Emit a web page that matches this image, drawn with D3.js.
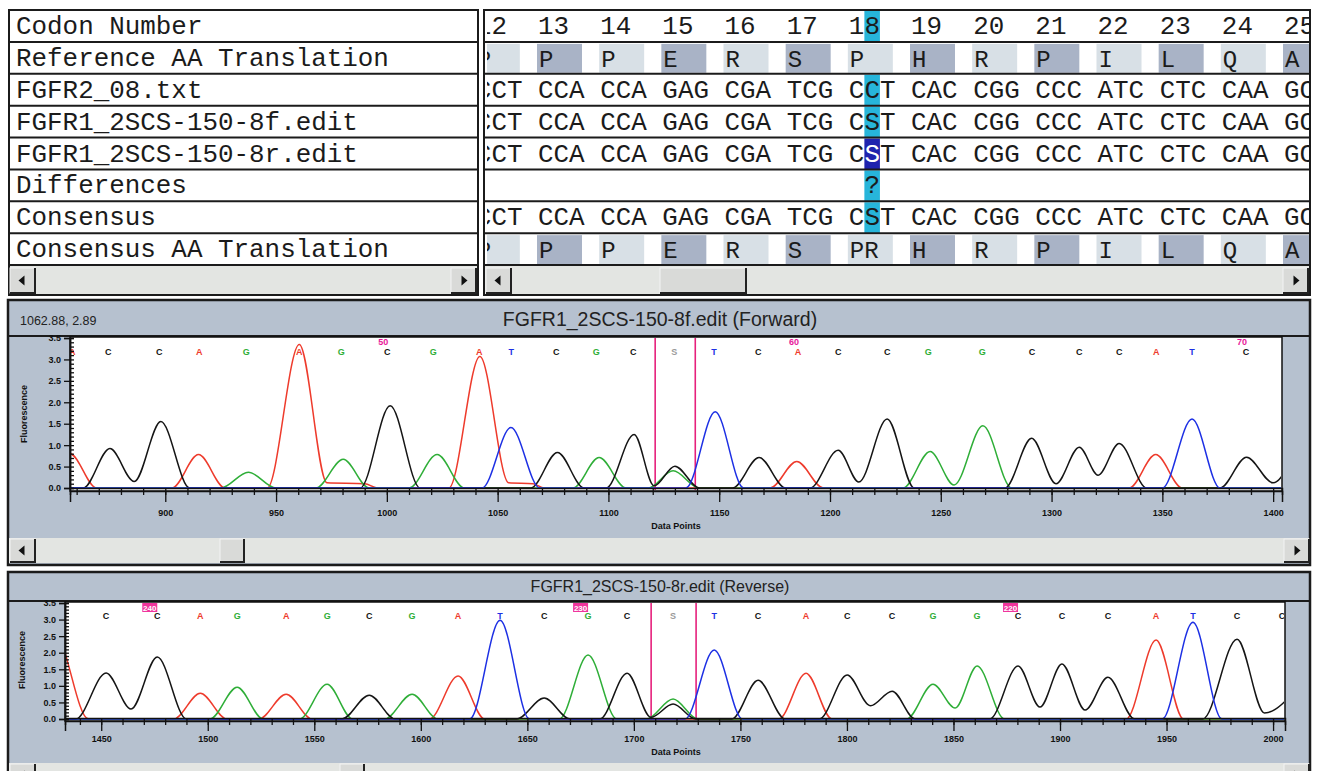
<!DOCTYPE html>
<html>
<head>
<meta charset="utf-8">
<script src="https://cdn.jsdelivr.net/npm/d3@7"></script>
<style>
  body { margin: 0; background: #fff; }
  svg { display: block; }
</style>
</head>
<body>
<svg id="chart" width="1319" height="771"></svg>
<script>
// ---- alignment table ----
const rowLabels = [
  'Codon Number',
  'Reference AA Translation',
  'FGFR2_08.txt',
  'FGFR1_2SCS-150-8f.edit',
  'FGFR1_2SCS-150-8r.edit',
  'Differences',
  'Consensus',
  'Consensus AA Translation',
]
const codonNumbers = [12, 13, 14, 15, 16, 17, 18, 19, 20, 21, 22, 23, 24, 25]
const refAA = ['P', 'P', 'P', 'E', 'R', 'S', 'P', 'H', 'R', 'P', 'I', 'L', 'Q', 'A']
const fgfr2Seq = ['CCT', 'CCA', 'CCA', 'GAG', 'CGA', 'TCG', 'CCT', 'CAC', 'CGG', 'CCC', 'ATC', 'CTC', 'CAA', 'GCC']
const fwdSeq = ['CCT', 'CCA', 'CCA', 'GAG', 'CGA', 'TCG', 'CST', 'CAC', 'CGG', 'CCC', 'ATC', 'CTC', 'CAA', 'GCC']
const revSeq = ['CCT', 'CCA', 'CCA', 'GAG', 'CGA', 'TCG', 'CST', 'CAC', 'CGG', 'CCC', 'ATC', 'CTC', 'CAA', 'GCC']
const diffSeq = ['', '', '', '', '', '', ' ?', '', '', '', '', '', '', '']
const consensusSeq = ['CCT', 'CCA', 'CCA', 'GAG', 'CGA', 'TCG', 'CST', 'CAC', 'CGG', 'CCC', 'ATC', 'CTC', 'CAA', 'GCC']
const consensusAA = ['P', 'P', 'P', 'E', 'R', 'S', 'PR', 'H', 'R', 'P', 'I', 'L', 'Q', 'A']
const markCodon = 18
const markChar = 1

// ---- forward trace (data points, fluorescence) ----
const fwdA = [[840, 0], [857, 0.8], [869, 0], [903, 0], [915, 0.78], [927, 0], [946, 0], [960.5, 3.35], [973, 0.12], [990, 0.1], [996, 0],
  [1028, 0], [1042, 3.07], [1055, 0.12], [1066, 0.1], [1071, 0], [1173, 0], [1185, 0.62], [1197, 0], [1335, 0], [1347, 0.78], [1359, 0], [1410, 0]]
const fwdC = [[840, 0], [863, 0], [875, 0.92], [886, 0.15], [898, 1.55], [911, 0], [988, 0], [1001.5, 1.92], [1015, 0], [1065, 0], [1077, 0.83], [1089, 0],
  [1099, 0], [1111.6, 1.25], [1120.6, 0.05], [1130, 0.51], [1141, 0], [1156, 0], [1168, 0.71], [1180, 0], [1191, 0], [1203.7, 0.88], [1213, 0.14],
  [1225.8, 1.61], [1238, 0], [1279, 0], [1291, 1.16], [1302, 0.1], [1312.5, 0.95], [1321, 0.3], [1330.5, 1.04], [1343, 0], [1376, 0], [1388, 0.72],
  [1400, 0.12], [1410, 0.9]]
const fwdG = [[840, 0], [925, 0], [937.5, 0.37], [950, 0], [968, 0], [980.3, 0.67], [992, 0], [1010, 0], [1022.7, 0.78], [1035, 0], [1084, 0],
  [1095.8, 0.71], [1108, 0], [1118, 0], [1129.2, 0.4], [1141, 0], [1233, 0], [1245.2, 0.85], [1256, 0.07], [1269, 1.45], [1282, 0], [1410, 0]]
const fwdT = [[840, 0], [1043, 0], [1056, 1.41], [1069, 0], [1135, 0], [1148.2, 1.78], [1161, 0], [1350, 0], [1363.4, 1.61], [1376, 0], [1410, 0]]
const fwdCalls = 'ACCAGAGCGATCGCSTCACCGGCCCATC'
const fwdCallPos = [858, 874.3, 897.3, 915.3, 936.6, 960.5, 979.4, 1000.2, 1020.9, 1041.7, 1056.1, 1076.4, 1094.5, 1111.2, 1129.7,
  1147.7, 1167.6, 1185.6, 1203.7, 1225.8, 1244.3, 1268.7, 1291.2, 1312.5, 1330.5, 1347.2, 1363.4, 1387.8]
const fwdMarkers = [[1000.2, '50'], [1185.6, '60'], [1387.8, '70']]
const fwdCursor = [1121.1, 1139.2]
const fwdXTicks = [900, 950, 1000, 1050, 1100, 1150, 1200, 1250, 1300, 1350, 1400]

// ---- reverse trace ----
const revA = [[1420, 0], [1428, 2.6], [1444, 0], [1484, 0], [1496.5, 0.78], [1509, 0], [1524, 0], [1536.8, 0.75], [1549, 0], [1604, 0],
  [1617.5, 1.3], [1630, 0], [1768, 0], [1780.8, 1.38], [1793, 0], [1931, 0], [1945.1, 2.38], [1958, 0], [2012, 0]]
const revC = [[1420, 0], [1438, 0], [1452.3, 1.39], [1464, 0.3], [1476.3, 1.87], [1490, 0], [1563, 0], [1575.8, 0.72], [1588, 0], [1645, 0],
  [1657.9, 0.63], [1670, 0], [1684, 0], [1696.8, 1.38], [1708, 0.05], [1718.4, 0.45], [1729, 0], [1746, 0], [1758.3, 1.17], [1771, 0],
  [1787, 0], [1800.1, 1.33], [1811, 0.4], [1821.2, 0.84], [1832, 0], [1867, 0], [1880.3, 1.6], [1890.6, 0.36], [1900.9, 1.66], [1911.8, 0.27],
  [1922.5, 1.26], [1935, 0], [1967, 0], [1983.1, 2.41], [1996, 0.18], [2012, 1.0]]
const revG = [[1420, 0], [1501, 0], [1513.8, 0.96], [1526, 0], [1543, 0], [1556, 1.05], [1568, 0], [1583, 0], [1595.9, 0.75], [1608, 0],
  [1665, 0], [1678.5, 1.93], [1692, 0], [1706, 0], [1718.4, 0.6], [1730, 0], [1828, 0], [1840.4, 1.05], [1850.8, 0.33], [1861.1, 1.6],
  [1874, 0], [2012, 0]]
const revT = [[1420, 0], [1623, 0], [1637.2, 2.98], [1651, 0], [1724, 0], [1737.7, 2.08], [1751, 0], [1948, 0], [1962.4, 2.92], [1976, 0], [2012, 0]]
const revCalls = 'CCAGAGCGATCGCSTCACCGGCCCATCC'
const revCallPos = [1452.3, 1476.3, 1496.5, 1513.8, 1536.8, 1556.1, 1575.8, 1595.9, 1617.5, 1637.2, 1657.9, 1678.5, 1696.8, 1718.4,
  1737.7, 1758.3, 1780.8, 1800.1, 1821.2, 1840.4, 1861.1, 1880.3, 1900.9, 1922.5, 1945.1, 1962.4, 1983.1, 2004.2]
const revMarkers = [[1476.3, '240'], [1678.5, '230'], [1880.3, '220']]
const revCursor = [1708.1, 1729.2]
const revXTicks = [1450, 1500, 1550, 1600, 1650, 1700, 1750, 1800, 1850, 1900, 1950, 2000]

const yTicks = [0, 0.5, 1, 1.5, 2, 2.5, 3, 3.5]

const ink = '#1b1b1b'
const panelFill = '#b6c1cf'
const scrollFill = '#e3e5e2'
const baseColors = { A: '#ee3b2c', C: '#151515', G: '#2fae38', T: '#1d30e4', S: '#9a9a9a' }
const mono = "'Liberation Mono', 'DejaVu Sans Mono', monospace"
const sans = "'Liberation Sans', Arial, sans-serif"

const svg = d3.select('#chart')

function scrollButton(g, x, y, w, h, dir) {
  g.append('rect').attr('x', x).attr('y', y).attr('width', w).attr('height', h)
    .attr('fill', '#d9dad8').attr('stroke', '#f4f4f4').attr('stroke-width', 1)
  g.append('path')
    .attr('d', `M${x + w},${y}V${y + h}H${x}`)
    .attr('fill', 'none').attr('stroke', '#222').attr('stroke-width', 2)
  if (!dir) return
  const cx = x + w / 2, cy = y + h / 2
  const d = dir === 'left'
    ? `M${cx - 4},${cy}L${cx + 2},${cy - 5}L${cx + 2},${cy + 5}Z`
    : `M${cx + 4},${cy}L${cx - 2},${cy - 5}L${cx - 2},${cy + 5}Z`
  g.append('path').attr('d', d).attr('fill', '#111')
}

// ================= table =================
const table = svg.append('g')
const rowY = d3.scaleLinear().domain([0, 8]).range([10, 265])
const rowH = rowY(1) - rowY(0)
const codonX = d3.scaleLinear().domain([13, 25]).range([538, 1284])
const charW = (codonX(14) - codonX(13)) / 4

// left panel
table.append('rect').attr('x', 9).attr('y', 10).attr('width', 469).attr('height', 285)
  .attr('fill', '#fff').attr('stroke', ink).attr('stroke-width', 2)
table.selectAll('.lbl').data(rowLabels).join('text')
  .attr('x', 16).attr('y', (d, i) => rowY(i) + 24)
  .attr('font-family', mono).attr('font-size', '25.9px').attr('fill', ink)
  .text(d => d)

// right panel
table.append('rect').attr('x', 484).attr('y', 10).attr('width', 826).attr('height', 285)
  .attr('fill', '#fff').attr('stroke', ink).attr('stroke-width', 2)

svg.append('clipPath').attr('id', 'tclip').append('rect')
  .attr('x', 487).attr('y', 10).attr('width', 822).attr('height', 255)
const grid = table.append('g').attr('clip-path', 'url(#tclip)')

// shaded AA cells
;[[1, refAA], [7, consensusAA]].forEach(([r, aa]) => {
  grid.selectAll(null).data(codonNumbers).join('rect')
    .attr('x', c => codonX(c) - 1).attr('y', rowY(r) + 2)
    .attr('width', 45).attr('height', rowH - 3)
    .attr('fill', c => (c % 2 ? '#a9b3c6' : '#d8e0e6'))
  grid.selectAll(null).data(aa).join('text')
    .attr('x', (d, i) => codonX(codonNumbers[i]) + 1).attr('y', rowY(r) + 25)
    .attr('font-family', mono).attr('font-size', '24px').attr('fill', ink)
    .text(d => d)
})

// highlighted column
const hx = codonX(markCodon) + charW * markChar
;[0, 2, 3, 5, 6].forEach(r => {
  grid.append('rect').attr('x', hx).attr('y', rowY(r) + 1).attr('width', charW).attr('height', rowH - 1)
    .attr('fill', '#27b5da')
})
// selected base in the reverse read
grid.append('rect').attr('x', hx).attr('y', rowY(4) + 1).attr('width', charW).attr('height', rowH - 1)
  .attr('fill', '#1f23ae')

const seqRows = [[0, codonNumbers.map(String)], [2, fgfr2Seq], [3, fwdSeq], [4, revSeq], [5, diffSeq], [6, consensusSeq]]
seqRows.forEach(([r, seq]) => {
  const t = grid.selectAll(null).data(seq).join('text')
    .attr('x', (d, i) => codonX(codonNumbers[i])).attr('y', rowY(r) + 24)
    .attr('font-family', mono).attr('font-size', '25.9px').attr('fill', ink)
    .attr('xml:space', 'preserve')
  t.selectAll('tspan').data((d, i) => d.split('').map(ch => ({ ch, sel: r === 4 && codonNumbers[i] === markCodon })))
    .join('tspan')
    .attr('fill', (d, j) => (d.sel && j === markChar ? '#fff' : null))
    .text(d => d.ch)
})

// row separators
d3.range(1, 9).forEach(i => {
  table.append('line').attr('x1', 9).attr('x2', 478).attr('y1', rowY(i)).attr('y2', rowY(i))
    .attr('stroke', ink).attr('stroke-width', 2)
  table.append('line').attr('x1', 484).attr('x2', 1310).attr('y1', rowY(i)).attr('y2', rowY(i))
    .attr('stroke', ink).attr('stroke-width', 2)
})

// table scrollbars
table.append('rect').attr('x', 10).attr('y', 266).attr('width', 467).attr('height', 28).attr('fill', scrollFill)
table.append('rect').attr('x', 485).attr('y', 266).attr('width', 824).attr('height', 28).attr('fill', scrollFill)
scrollButton(table, 10, 268, 25, 25, 'left')
scrollButton(table, 451, 268, 25, 25, 'right')
scrollButton(table, 486, 268, 25, 25, 'left')
scrollButton(table, 660, 268, 86, 25, null)
scrollButton(table, 1283, 268, 25, 25, 'right')

// ================= chromatograms =================
function chromatogram(cfg) {
  const g = svg.append('g')
  g.append('rect').attr('x', 8).attr('y', cfg.top).attr('width', 1302).attr('height', cfg.height)
    .attr('fill', panelFill).attr('stroke', ink).attr('stroke-width', 2.5)
  g.append('line').attr('x1', 8).attr('x2', 1310).attr('y1', cfg.titleLine).attr('y2', cfg.titleLine)
    .attr('stroke', ink).attr('stroke-width', 2)
  g.append('text').attr('x', 660).attr('y', cfg.titleY).attr('text-anchor', 'middle')
    .attr('font-family', sans).attr('font-size', cfg.titleSize).attr('fill', '#222')
    .text(cfg.title)
  if (cfg.coords) {
    g.append('text').attr('x', 20).attr('y', cfg.titleY - 1)
      .attr('font-family', sans).attr('font-size', '12.5px').attr('fill', '#222').text(cfg.coords)
  }

  const x = d3.scaleLinear().domain(cfg.xDomain).range([cfg.left, cfg.right])
  const y = d3.scaleLinear().domain([0, 3.5]).range([cfg.base, cfg.plotTop])

  g.append('rect').attr('x', cfg.left).attr('y', cfg.plotTop - 1)
    .attr('width', cfg.right - cfg.left).attr('height', cfg.axisY - cfg.plotTop + 1)
    .attr('fill', '#fff').attr('stroke', '#111').attr('stroke-width', 1.5)

  const clipId = 'clip-' + cfg.id
  svg.append('clipPath').attr('id', clipId).append('rect')
    .attr('x', cfg.left + 1).attr('y', cfg.plotTop - 1)
    .attr('width', cfg.right - cfg.left - 2).attr('height', cfg.axisY - cfg.plotTop)
  const plot = g.append('g').attr('clip-path', `url(#${clipId})`)

  // cursor lines
  plot.selectAll(null).data(cfg.cursor).join('line')
    .attr('x1', d => x(d)).attr('x2', d => x(d)).attr('y1', cfg.plotTop).attr('y2', cfg.axisY)
    .attr('stroke', '#e6207c').attr('stroke-width', 1.6)

  const line = d3.line().x(d => x(d[0])).y(d => y(d[1])).curve(d3.curveMonotoneX)
  ;[['A', cfg.A], ['G', cfg.G], ['C', cfg.C], ['T', cfg.T]].forEach(([b, pts]) => {
    plot.append('path').datum(pts).attr('d', line)
      .attr('fill', 'none').attr('stroke', baseColors[b]).attr('stroke-width', 1.5)
  })

  // base calls
  plot.selectAll(null).data(cfg.callPos).join('text')
    .attr('x', d => x(d)).attr('y', cfg.callY).attr('text-anchor', 'middle')
    .attr('font-family', sans).attr('font-size', '9px').attr('font-weight', 'bold')
    .attr('fill', (d, i) => baseColors[cfg.calls[i]])
    .text((d, i) => cfg.calls[i])

  // position markers
  cfg.markers.forEach(([p, label]) => {
    if (cfg.boxed) {
      plot.append('rect').attr('x', x(p) - 15).attr('y', cfg.plotTop).attr('width', 15).attr('height', 9)
        .attr('fill', '#f0359c')
      plot.append('text').attr('x', x(p) - 7.5).attr('y', cfg.plotTop + 8).attr('text-anchor', 'middle')
        .attr('font-family', sans).attr('font-size', '8px').attr('font-weight', 'bold').attr('fill', '#fff')
        .text(label)
    } else {
      plot.append('text').attr('x', x(p) + 1).attr('y', cfg.plotTop + 7).attr('text-anchor', 'end')
        .attr('font-family', sans).attr('font-size', '9px').attr('font-weight', 'bold').attr('fill', '#e8189a')
        .text(label)
    }
  })

  // axes
  const yAxis = g.append('g').attr('transform', `translate(${cfg.left},0)`)
    .call(d3.axisLeft(y).tickValues(yTicks).tickFormat(d3.format('.1f')).tickSize(6).tickPadding(3))
  const yMinor = g.append('g').attr('transform', `translate(${cfg.left},0)`)
    .call(d3.axisLeft(y).tickValues(d3.range(0, 3.51, 0.1)).tickFormat('').tickSize(-4))
  const xAxis = g.append('g').attr('transform', `translate(0,${cfg.axisY})`)
    .call(d3.axisBottom(x).tickValues(cfg.xTicks).tickFormat(d3.format('d')).tickSize(cfg.majorTick).tickPadding(cfg.tickPad))
  const xMinor = g.append('g').attr('transform', `translate(0,${cfg.axisY - 3})`)
    .call(d3.axisBottom(x).tickValues(d3.range(cfg.xTicks[0] - 50, cfg.xDomain[1], 10).filter(v => v >= cfg.xDomain[0])).tickFormat('').tickSize(7))
  ;[yAxis, yMinor, xAxis, xMinor].forEach(a => {
    a.selectAll('.domain').attr('stroke', '#111').attr('stroke-width', 1.5)
    a.selectAll('.tick line').attr('stroke', '#111').attr('stroke-width', 1.3)
    a.selectAll('text').attr('font-family', sans).attr('font-size', '9px')
      .attr('font-weight', 'bold').attr('fill', '#111')
  })

  g.append('text').attr('transform', `translate(${cfg.yLabelX},${cfg.yLabelY}) rotate(-90)`)
    .attr('text-anchor', 'middle').attr('font-family', sans).attr('font-size', '9px')
    .attr('font-weight', 'bold').attr('fill', '#111').text('Fluorescence')
  g.append('text').attr('x', 676).attr('y', cfg.dataY).attr('text-anchor', 'middle')
    .attr('font-family', sans).attr('font-size', '9px').attr('font-weight', 'bold').attr('fill', '#111')
    .text('Data Points')

  // scrollbar
  g.append('rect').attr('x', 9).attr('y', cfg.scrollY).attr('width', 1300).attr('height', 25).attr('fill', scrollFill)
  scrollButton(g, 10, cfg.scrollY + 1, 25, 23, 'left')
  scrollButton(g, cfg.thumb, cfg.scrollY + 1, 24, 23, null)
  scrollButton(g, 1284, cfg.scrollY + 1, 25, 23, 'right')
}

chromatogram({
  id: 'fwd', top: 300, height: 265, titleLine: 336, titleY: 326, titleSize: '19.5px',
  title: 'FGFR1_2SCS-150-8f.edit (Forward)', coords: '1062.88, 2.89',
  xDomain: [857, 1404], left: 70, right: 1282, plotTop: 338, base: 488, axisY: 491,
  majorTick: 11, tickPad: 8, callY: 355, dataY: 529, yLabelX: 27, yLabelY: 414,
  A: fwdA, C: fwdC, G: fwdG, T: fwdT, calls: fwdCalls, callPos: fwdCallPos,
  markers: fwdMarkers, boxed: false, cursor: fwdCursor, xTicks: fwdXTicks,
  scrollY: 538, thumb: 220,
})

chromatogram({
  id: 'rev', top: 572, height: 210, titleLine: 601, titleY: 592, titleSize: '16px',
  title: 'FGFR1_2SCS-150-8r.edit (Reverse)', coords: null,
  xDomain: [1433, 2005.6], left: 65, right: 1285, plotTop: 603, base: 719, axisY: 721,
  majorTick: 10, tickPad: 5, callY: 619, dataY: 755, yLabelX: 25, yLabelY: 660,
  A: revA, C: revC, G: revG, T: revT, calls: revCalls, callPos: revCallPos,
  markers: revMarkers, boxed: true, cursor: revCursor, xTicks: revXTicks,
  scrollY: 763, thumb: 340,
})
</script>
</body>
</html>
